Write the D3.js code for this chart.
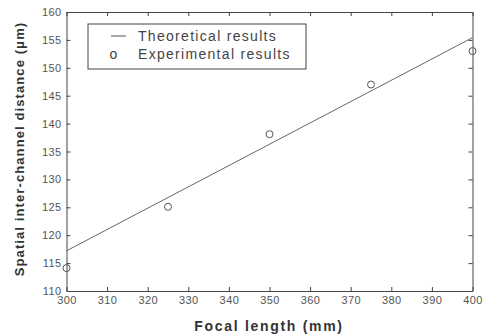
<!DOCTYPE html>
<html>
<head>
<meta charset="utf-8">
<script src="https://cdn.jsdelivr.net/npm/d3@7"></script>
<style>
  body { margin: 0; background: #fff; }
  svg { font-family: Arial, "Liberation Sans", sans-serif; }
  .tick text { fill: #555; font-size: 11px; letter-spacing: 0.4px; }
</style>
</head>
<body>
<div id="chart"></div>
<script>
// focal length (mm) vs spatial inter-channel distance (um)
var theoryX = [300, 400];
var theoryY = [117.2, 155.4];
var expX = [300, 325, 350, 375, 400];
var expY = [114.1, 125.1, 138.1, 147.0, 153.0];
var xTicks = [300, 310, 320, 330, 340, 350, 360, 370, 380, 390, 400];
var yTicks = [110, 115, 120, 125, 130, 135, 140, 145, 150, 155, 160];

var width = 489, height = 336;
var margin = { top: 12, right: 16.5, bottom: 45, left: 66.5 };

var svg = d3.select("#chart").append("svg")
    .attr("width", width)
    .attr("height", height);

var x = d3.scaleLinear().domain([300, 400]).range([margin.left, width - margin.right]);
var y = d3.scaleLinear().domain([110, 160]).range([height - margin.bottom, margin.top]);

var axisColor = "#444";

// axes with inward ticks on all four sides
function styleAxis(g) {
    g.select(".domain").attr("stroke", axisColor);
    g.selectAll(".tick line").attr("stroke", axisColor);
}

svg.append("g")
    .attr("transform", "translate(0," + y(110) + ")")
    .call(d3.axisBottom(x).tickValues(xTicks).tickSizeInner(-4).tickSizeOuter(0).tickPadding(5))
    .call(styleAxis);

svg.append("g")
    .attr("transform", "translate(0," + y(160) + ")")
    .call(d3.axisTop(x).tickValues(xTicks).tickSizeInner(-4).tickSizeOuter(0).tickFormat(""))
    .call(styleAxis);

svg.append("g")
    .attr("transform", "translate(" + x(300) + ",0)")
    .call(d3.axisLeft(y).tickValues(yTicks).tickSizeInner(-4).tickSizeOuter(0).tickPadding(5))
    .call(styleAxis);

svg.append("g")
    .attr("transform", "translate(" + x(400) + ",0)")
    .call(d3.axisRight(y).tickValues(yTicks).tickSizeInner(-4).tickSizeOuter(0).tickFormat(""))
    .call(styleAxis);

svg.selectAll(".tick text").attr("fill", "#555");

// theoretical line
var line = d3.line()
    .x(function(d, i) { return x(theoryX[i]); })
    .y(function(d) { return y(d); });

svg.append("path")
    .datum(theoryY)
    .attr("d", line)
    .attr("fill", "none")
    .attr("stroke", "#666")
    .attr("stroke-width", 1);

// experimental points
svg.selectAll("circle.exp")
    .data(expY)
    .enter()
    .append("circle")
    .attr("class", "exp")
    .attr("cx", function(d, i) { return x(expX[i]); })
    .attr("cy", function(d) { return y(d); })
    .attr("r", 3.5)
    .attr("fill", "none")
    .attr("stroke", "#555")
    .attr("stroke-width", 1);

// legend
var legend = svg.append("g");
legend.append("rect")
    .attr("x", 88).attr("y", 24)
    .attr("width", 218).attr("height", 45)
    .attr("fill", "#fff")
    .attr("stroke", "#444");
legend.append("line")
    .attr("x1", 111).attr("x2", 126)
    .attr("y1", 36).attr("y2", 36)
    .attr("stroke", "#555");
legend.append("text")
    .attr("x", 113.5).attr("y", 58.5)
    .attr("text-anchor", "middle")
    .attr("font-size", 14).attr("fill", "#444")
    .text("o");
legend.append("text")
    .attr("x", 138).attr("y", 41)
    .attr("font-size", 14).attr("fill", "#444")
    .attr("letter-spacing", 1.3)
    .text("Theoretical results");
legend.append("text")
    .attr("x", 138).attr("y", 59)
    .attr("font-size", 14).attr("fill", "#444")
    .attr("letter-spacing", 1.3)
    .text("Experimental results");

// axis titles
svg.append("text")
    .attr("x", 269).attr("y", 331)
    .attr("text-anchor", "middle")
    .attr("font-size", 14).attr("font-weight", "bold")
    .attr("letter-spacing", 1.7)
    .attr("fill", "#333")
    .text("Focal length (mm)");

svg.append("text")
    .attr("transform", "translate(24,149) rotate(-90)")
    .attr("text-anchor", "middle")
    .attr("font-size", 13).attr("font-weight", "bold")
    .attr("letter-spacing", 1.1)
    .attr("fill", "#333")
    .text("Spatial inter-channel distance (\u03bcm)");
</script>
</body>
</html>
